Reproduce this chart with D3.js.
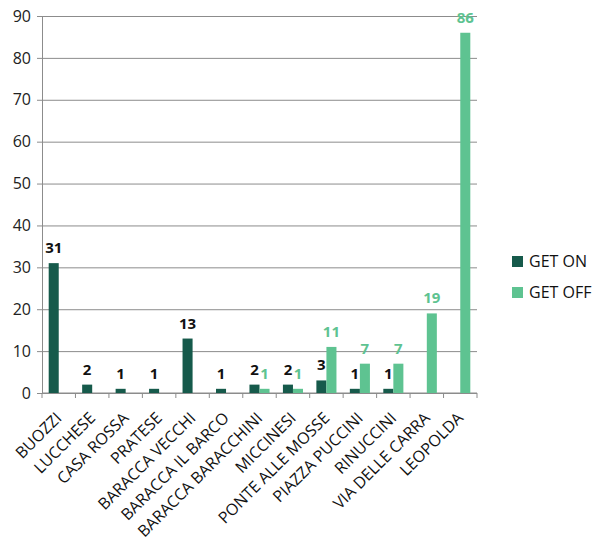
<!DOCTYPE html>
<html>
<head>
<meta charset="utf-8">
<script src="https://cdn.jsdelivr.net/npm/d3@7"></script>
<style>
  body { margin: 0; background: #fff; }
  text { font-family: "Open Sans", sans-serif; }
</style>
</head>
<body>
<div id="chart"></div>
<script>
// bus stops and passenger counts
const stops = ["BUOZZI", "LUCCHESE", "CASA ROSSA", "PRATESE", "BARACCA VECCHI",
    "BARACCA IL BARCO", "BARACCA BARACCHINI", "MICCINESI", "PONTE ALLE MOSSE",
    "PIAZZA PUCCINI", "RINUCCINI", "VIA DELLE CARRA", "LEOPOLDA"];
const getOn  = [31, 2, 1, 1, 13, 1, 2, 2, 3, 1, 1, 0, 0];
const getOff = [0, 0, 0, 0, 0, 0, 1, 1, 11, 7, 7, 19, 86];
const seriesNames = ["GET ON", "GET OFF"];
const yTicks = [0, 10, 20, 30, 40, 50, 60, 70, 80, 90];

const width = 592, height = 547,
    margin = ({ top: 16, right: 115, bottom: 154, left: 42 });
const colors = ["#165a4b", "#5ec391"];
const labelColors = ["#111", "#5ec391"];

const svg = d3.select("#chart")
    .append("svg")
    .attr("width", width)
    .attr("height", height);

const series = [getOn, getOff];
const data = stops.map((s, i) => ({ stop: s, vals: series.map(v => v[i]) }));

let x = d3.scaleBand()
    .domain(stops)
    .range([margin.left, width - margin.right])
    .paddingInner(0.4)
    .paddingOuter(0.2);

let x1 = d3.scaleBand()
    .domain([0, 1])
    .range([0, x.bandwidth()]);

let y = d3.scaleLinear()
    .domain([0, 90])
    .range([height - margin.bottom, margin.top]);

// gridlines + y axis
svg.append("g")
    .attr("transform", `translate(${margin.left},0)`)
    .call(d3.axisLeft(y).tickValues(yTicks).tickSize(5).tickSizeOuter(0).tickPadding(6))
    .call(g => g.select(".domain").attr("stroke", "#8c8c8c"))
    .call(g => g.selectAll(".tick line").attr("stroke", "#8c8c8c"))
    .call(g => g.selectAll(".tick text").attr("font-size", 16).attr("fill", "#222"))
    .call(g => g.selectAll(".tick").append("line")
        .attr("x2", width - margin.right - margin.left)
        .attr("stroke", "#8c8c8c"));

// x axis with ticks at category boundaries
const step = x.step();
svg.append("g")
    .attr("transform", `translate(0,${height - margin.bottom})`)
    .call(g => g.append("line")
        .attr("x1", margin.left).attr("x2", width - margin.right)
        .attr("stroke", "#8c8c8c"))
    .call(g => g.selectAll(".xt")
        .data(d3.range(stops.length + 1))
        .join("line")
        .attr("x1", i => margin.left + i * step)
        .attr("x2", i => margin.left + i * step)
        .attr("y2", 5)
        .attr("stroke", "#8c8c8c"));

svg.append("g")
    .selectAll("text")
    .data(stops)
    .join("text")
    .attr("transform", d => `translate(${x(d) + x.bandwidth() / 2 + 4},${height - margin.bottom + 26}) rotate(-45)`)
    .attr("text-anchor", "end")
    .attr("font-size", 16)
    .attr("fill", "#111")
    .text(d => d);

// bars
const groups = svg.append("g")
    .selectAll("g")
    .data(data)
    .join("g")
    .attr("transform", d => `translate(${x(d.stop)},0)`);

groups.selectAll("rect")
    .data(d => d.vals.map((v, k) => ({ v, k })))
    .join("rect")
    .attr("x", d => x1(d.k))
    .attr("width", x1.bandwidth())
    .attr("y", d => y(d.v))
    .attr("height", d => y(0) - y(d.v))
    .attr("fill", d => colors[d.k]);

groups.selectAll("text")
    .data(d => d.vals.map((v, k) => ({ v, k })).filter(d => d.v > 0))
    .join("text")
    .attr("x", d => x1(d.k) + x1.bandwidth() / 2)
    .attr("y", d => y(d.v) - 10)
    .attr("text-anchor", "middle")
    .attr("font-size", 15)
    .attr("font-weight", "bold")
    .attr("fill", d => labelColors[d.k])
    .text(d => d.v);

// legend
const legend = svg.append("g")
    .selectAll("g")
    .data(seriesNames)
    .join("g")
    .attr("transform", (d, i) => `translate(512,${256 + i * 31})`);

legend.append("rect")
    .attr("width", 11).attr("height", 11)
    .attr("fill", (d, i) => colors[i]);

legend.append("text")
    .attr("x", 17).attr("y", 11)
    .attr("font-size", 16)
    .attr("fill", "#111")
    .text(d => d);
</script>
</body>
</html>
